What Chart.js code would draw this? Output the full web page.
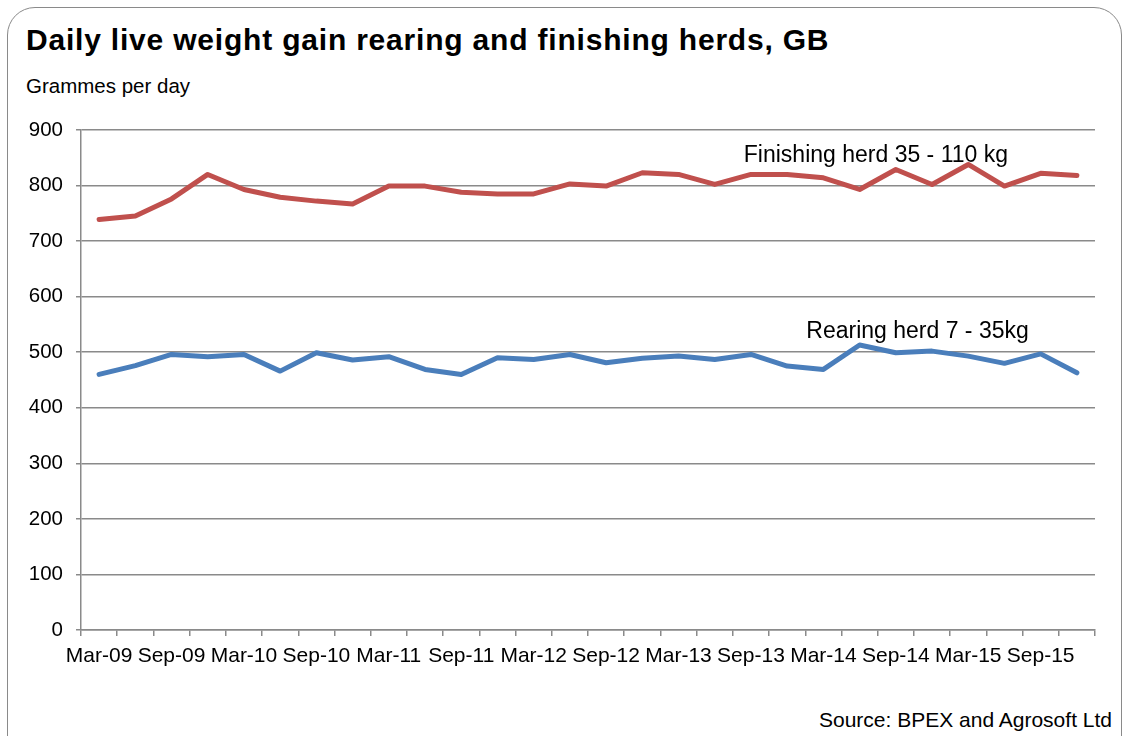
<!DOCTYPE html>
<html>
<head>
<meta charset="utf-8">
<script src="https://cdn.jsdelivr.net/npm/chart.js@4"></script>
<style>
  html, body { margin: 0; padding: 0; background: #fff; }
  body { width: 1126px; height: 736px; position: relative; overflow: hidden; font-family: "Liberation Sans", Arial, sans-serif; }
  .frame { position: absolute; left: 7px; top: 7px; width: 1115px; height: 780px; border: 1.5px solid #8a8a8a; border-radius: 28px; box-sizing: border-box; }
  .title { position: absolute; left: 26px; top: 23px; font-size: 30px; font-weight: bold; letter-spacing: 0.8px; color: #000; }
  .unit { position: absolute; left: 26px; top: 74px; font-size: 20.5px; color: #000; }
  .source { position: absolute; right: 14px; top: 708px; font-size: 21px; color: #000; }
  canvas { position: absolute; left: 0; top: 0; }
</style>
</head>
<body>
<div class="frame"></div>
<div class="title">Daily live weight gain rearing and finishing herds, GB</div>
<div class="unit">Grammes per day</div>
<div class="source">Source: BPEX and Agrosoft Ltd</div>
<canvas id="myChart" width="1126" height="736"></canvas>
<script>
const quarters = [
  "Mar-09", "Jun-09", "Sep-09", "Dec-09",
  "Mar-10", "Jun-10", "Sep-10", "Dec-10",
  "Mar-11", "Jun-11", "Sep-11", "Dec-11",
  "Mar-12", "Jun-12", "Sep-12", "Dec-12",
  "Mar-13", "Jun-13", "Sep-13", "Dec-13",
  "Mar-14", "Jun-14", "Sep-14", "Dec-14",
  "Mar-15", "Jun-15", "Sep-15", "Dec-15",
];

// finishing herd 35 - 110 kg
const finishing = [
  739, 745, 776, 820, 793, 779, 772, 767, 799, 799,
  788, 785, 785, 803, 799, 823, 820, 802, 820, 820,
  814, 793, 829, 802, 838, 799, 822, 818,
];

// rearing herd 7 - 35kg
const rearing = [
  460, 476, 496, 492, 496, 466, 499, 486, 492, 469,
  460, 490, 487, 496, 481, 489, 493, 487, 496, 475,
  469, 513, 499, 502, 493, 480, 497, 463,
];

const yTicks = [0, 100, 200, 300, 400, 500, 600, 700, 800, 900];

const gridColor = "#8a8a8a";
const ctx = document.getElementById("myChart").getContext("2d");

// series names written next to the lines
const seriesLabels = {
  id: "seriesLabels",
  afterDatasetsDraw(chart) {
    const { ctx, scales } = chart;
    const items = [
      { text: "Finishing herd 35 - 110 kg", x: 21.45, y: 842 },
      { text: "Rearing herd 7 - 35kg", x: 22.6, y: 525 },
    ];
    ctx.save();
    ctx.font = '23px "Liberation Sans", Arial, sans-serif';
    ctx.fillStyle = "#000";
    ctx.textAlign = "center";
    ctx.textBaseline = "alphabetic";
    items.forEach((it) => {
      ctx.fillText(it.text, scales.x.getPixelForValue(it.x), scales.y.getPixelForValue(it.y));
    });
    ctx.restore();
  },
};

const myChart = new Chart(ctx, {
  type: "line",
  data: {
    labels: quarters,
    datasets: [
      {
        label: "Finishing herd 35 - 110 kg",
        data: finishing,
        borderColor: "#C0504D",
        backgroundColor: "#C0504D",
        borderWidth: 5,
        pointRadius: 0,
        tension: 0,
        borderCapStyle: "round",
        borderJoinStyle: "round",
      },
      {
        label: "Rearing herd 7 - 35kg",
        data: rearing,
        borderColor: "#4A7EBB",
        backgroundColor: "#4A7EBB",
        borderWidth: 5,
        pointRadius: 0,
        tension: 0,
        borderCapStyle: "round",
        borderJoinStyle: "round",
      },
    ],
  },
  options: {
    responsive: false,
    animation: false,
    devicePixelRatio: 1,
    layout: { padding: { left: 0, top: 130, right: 31, bottom: 66 } },
    plugins: {
      legend: { display: false },
      tooltip: { enabled: false },
      title: { display: false },
    },
    scales: {
      x: {
        type: "category",
        offset: true,
        grid: {
          offset: true,
          drawOnChartArea: false,
          drawTicks: true,
          tickLength: 6,
          color: gridColor,
          lineWidth: 1.5,
        },
        border: { display: true, color: gridColor, width: 1.5 },
        ticks: {
          autoSkip: false,
          maxRotation: 0,
          minRotation: 0,
          padding: 8,
          color: "#000",
          font: { family: '"Liberation Sans", Arial, sans-serif', size: 21 },
          callback: (val, i) => (i % 2 === 0 ? quarters[i] : ""),
        },
        afterFit: (scale) => { scale.height = 40; },
      },
      y: {
        min: 0,
        max: 900,
        afterBuildTicks: (scale) => { scale.ticks = yTicks.map((v) => ({ value: v })); },
        grid: {
          color: gridColor,
          lineWidth: 1.5,
          drawTicks: true,
          tickLength: 5,
        },
        border: { display: true, color: gridColor, width: 1.5 },
        ticks: {
          padding: 13,
          color: "#000",
          font: { family: '"Liberation Sans", Arial, sans-serif', size: 20.5 },
        },
        afterFit: (scale) => { scale.width = 81; },
      },
    },
  },
  plugins: [seriesLabels],
});
</script>
</body>
</html>
